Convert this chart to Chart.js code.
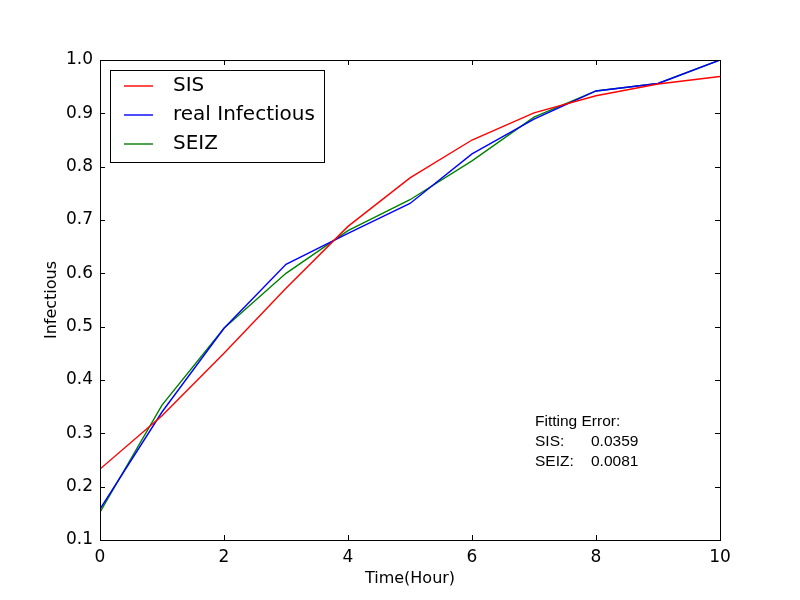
<!DOCTYPE html>
<html>
<head>
<meta charset="utf-8">
<script src="https://cdn.jsdelivr.net/npm/chart.js@4.4.1/dist/chart.umd.min.js"></script>
<style>
  html, body { margin: 0; padding: 0; background: #fff; }
  #wrap { width: 800px; height: 600px; }
</style>
</head>
<body>
<div id="wrap"><canvas id="infectiousChart" width="800" height="600"></canvas></div>
<script>
const hours = [0, 1, 2, 3, 4, 5, 6, 7, 8, 9, 10];
const sisValues = [0.233, 0.333, 0.450, 0.572, 0.688, 0.779, 0.850, 0.901, 0.933, 0.955, 0.969];
const realValues = [0.158, 0.340, 0.497, 0.617, 0.675, 0.731, 0.824, 0.889, 0.942, 0.956, 1.0];
const seizValues = [0.152, 0.353, 0.497, 0.600, 0.680, 0.738, 0.811, 0.893, 0.942, 0.956, 1.0];
const errorLines = [['Fitting Error:', ''], ['SIS:', '0.0359'], ['SEIZ:', '0.0081']];

const toPoints = vals => hours.map((h, i) => ({ x: h, y: vals[i] }));

// ticks inside the box on all four sides, plus the frame, legend and error text
const framePlugin = {
  id: 'framePlugin',
  afterDraw(chart) {
    const ctx = chart.ctx;
    const a = chart.chartArea;
    const xs = chart.scales.x, ys = chart.scales.y;
    ctx.save();
    ctx.strokeStyle = '#000';
    ctx.lineWidth = 1;
    ctx.beginPath();
    xs.ticks.forEach(t => {
      const px = Math.round(xs.getPixelForValue(t.value)) + 0.5;
      ctx.moveTo(px, a.bottom); ctx.lineTo(px, a.bottom - 5);
      ctx.moveTo(px, a.top); ctx.lineTo(px, a.top + 5);
    });
    ys.ticks.forEach(t => {
      const py = Math.round(ys.getPixelForValue(t.value)) + 0.5;
      ctx.moveTo(a.left, py); ctx.lineTo(a.left + 5, py);
      ctx.moveTo(a.right, py); ctx.lineTo(a.right - 5, py);
    });
    ctx.stroke();
    ctx.strokeRect(a.left + 0.5, a.top + 0.5, a.right - a.left, a.bottom - a.top);

    // legend
    ctx.fillStyle = '#fff';
    ctx.fillRect(110.5, 70.5, 214, 92);
    ctx.strokeRect(110.5, 70.5, 214, 92);
    ctx.font = '20px "DejaVu Sans"';
    ctx.textBaseline = 'middle';
    chart.data.datasets.forEach((ds, i) => {
      const y = 86 + i * 29;
      ctx.strokeStyle = ds.borderColor;
      ctx.lineWidth = 1.4;
      ctx.beginPath();
      ctx.moveTo(124, y); ctx.lineTo(153, y);
      ctx.stroke();
      ctx.fillStyle = '#000';
      ctx.fillText(ds.label, 173, y);
    });

    // fitting error note
    ctx.font = '15.5px "Liberation Sans"';
    ctx.textBaseline = 'alphabetic';
    ctx.fillStyle = '#000';
    errorLines.forEach((row, i) => {
      ctx.fillText(row[0], 535, 426 + i * 20);
      ctx.fillText(row[1], 591, 426 + i * 20);
    });
    ctx.restore();
  }
};

new Chart(document.getElementById('infectiousChart'), {
  type: 'line',
  data: {
    datasets: [
      { label: 'SIS', data: toPoints(sisValues), borderColor: '#ff0000' },
      { label: 'real Infectious', data: toPoints(realValues), borderColor: '#0000ff' },
      { label: 'SEIZ', data: toPoints(seizValues), borderColor: '#008000' }
    ]
  },
  options: {
    responsive: false,
    animation: false,
    layout: { padding: { left: 0, top: 60, right: 80, bottom: 0 } },
    elements: {
      point: { radius: 0 },
      line: { borderWidth: 1.4, tension: 0, fill: false }
    },
    plugins: {
      legend: { display: false },
      tooltip: { enabled: false }
    },
    scales: {
      x: {
        type: 'linear',
        min: 0,
        max: 10,
        afterFit(scale) { scale.height = 60; },
        grid: { display: false, drawTicks: false },
        border: { display: false },
        ticks: { stepSize: 2, color: '#000', padding: 7, font: { family: 'DejaVu Sans', size: 17 } },
        title: { display: true, text: 'Time(Hour)', color: '#000', font: { family: 'DejaVu Sans', size: 16 }, padding: { bottom: 12 } }
      },
      y: {
        min: 0.1,
        max: 1.0,
        afterFit(scale) { scale.width = 100; },
        grid: { display: false, drawTicks: false },
        border: { display: false },
        ticks: {
          stepSize: 0.1,
          color: '#000',
          padding: 7,
          font: { family: 'DejaVu Sans', size: 17, lineHeight: 1.0 },
          callback: v => v.toFixed(1)
        },
        title: { display: true, text: 'Infectious', color: '#000', font: { family: 'DejaVu Sans', size: 16 }, padding: { top: 42 } }
      }
    }
  },
  plugins: [framePlugin]
});
</script>
</body>
</html>
